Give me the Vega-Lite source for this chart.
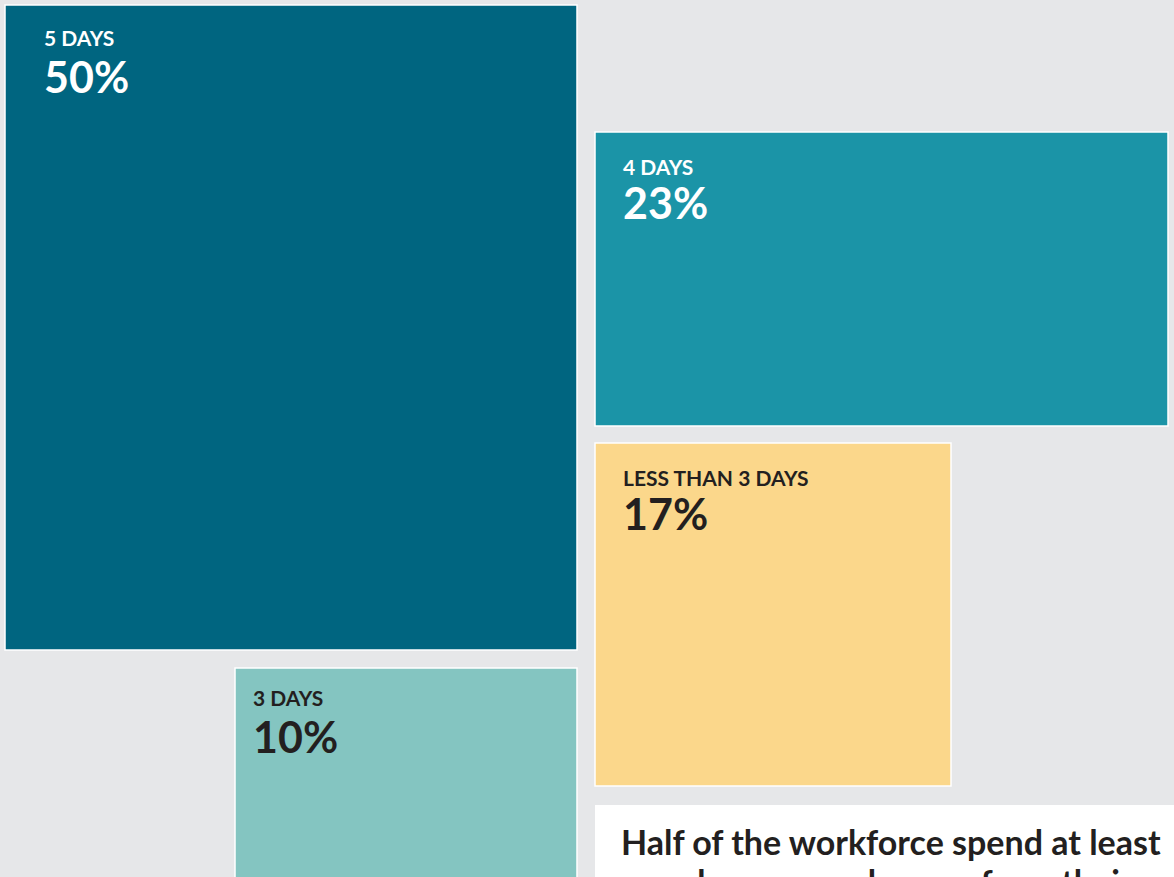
{
  "$schema": "https://vega.github.io/schema/vega-lite/v6.json",
  "width": 1174,
  "height": 877,
  "padding": 0,
  "autosize": {"type": "fit", "contains": "padding"},
  "background": "#e6e7e9",
  "config": {"view": {"stroke": null}, "font": "Lato"},
  "datasets": {
    "groups": [
      {"label": "5 DAYS", "share": 0.50, "x0": 5, "x1": 577, "y0": 5, "y1": 650},
      {"label": "4 DAYS", "share": 0.23, "x0": 595, "x1": 1168, "y0": 132, "y1": 426},
      {"label": "LESS THAN 3 DAYS", "share": 0.17, "x0": 595, "x1": 951, "y0": 443, "y1": 786},
      {"label": "3 DAYS", "share": 0.10, "x0": 235, "x1": 577, "y0": 668, "y1": 884}
    ],
    "note": [
      {"x0": 595, "x1": 1200, "y0": 805, "y1": 900, "text": ["Half of the workforce spend at least", "one day per week away from their"]}
    ]
  },
  "layer": [
    {
      "data": {"name": "groups"},
      "mark": {"type": "rect", "stroke": "#ffffff", "strokeWidth": 1.5, "clip": true},
      "encoding": {
        "x": {"field": "x0", "type": "quantitative", "scale": {"domain": [0, 1174], "nice": false, "zero": false}, "axis": null},
        "x2": {"field": "x1"},
        "y": {"field": "y0", "type": "quantitative", "scale": {"domain": [0, 877], "reverse": true, "nice": false, "zero": false}, "axis": null},
        "y2": {"field": "y1"},
        "color": {"field": "label", "type": "nominal", "scale": {"domain": ["5 DAYS", "4 DAYS", "LESS THAN 3 DAYS", "3 DAYS"], "range": ["#006580", "#1b94a7", "#fbd78b", "#84c5c1"]}, "legend": null}
      }
    },
    {
      "data": {"name": "note"},
      "mark": {"type": "rect", "fill": "#ffffff", "clip": true},
      "encoding": {
        "x": {"field": "x0", "type": "quantitative"},
        "x2": {"field": "x1"},
        "y": {"field": "y0", "type": "quantitative"},
        "y2": {"field": "y1"}
      }
    },
    {
      "data": {"name": "note"},
      "mark": {"type": "text", "align": "left", "baseline": "alphabetic", "dx": 26, "dy": 50, "fontSize": 34, "fontWeight": "bold", "lineHeight": 40, "fill": "#231f20", "clip": true},
      "encoding": {
        "x": {"field": "x0", "type": "quantitative"},
        "y": {"field": "y0", "type": "quantitative"},
        "text": {"field": "text"}
      }
    },
    {
      "data": {"name": "groups"},
      "transform": [{"filter": "datum.label == '5 DAYS'"}],
      "layer": [
        {"mark": {"type": "text", "align": "left", "baseline": "alphabetic", "dx": 39, "dy": 41, "fontSize": 21, "fontWeight": "bold"},
         "encoding": {"text": {"field": "label"}}},
        {"mark": {"type": "text", "align": "left", "baseline": "alphabetic", "dx": 39, "dy": 88, "fontSize": 43, "fontWeight": "bold"},
         "encoding": {"text": {"field": "share", "type": "quantitative", "format": ".0%"}}}
      ],
      "encoding": {
        "x": {"field": "x0", "type": "quantitative"},
        "y": {"field": "y0", "type": "quantitative"},
        "color": {"condition": {"test": "datum.share >= 0.2", "value": "#ffffff"}, "value": "#231f20"}
      }
    },
    {
      "data": {"name": "groups"},
      "transform": [{"filter": "datum.label == '4 DAYS' || datum.label == 'LESS THAN 3 DAYS'"}],
      "layer": [
        {"mark": {"type": "text", "align": "left", "baseline": "alphabetic", "dx": 28, "dy": 43, "fontSize": 21, "fontWeight": "bold"},
         "encoding": {"text": {"field": "label"}}},
        {"mark": {"type": "text", "align": "left", "baseline": "alphabetic", "dx": 28, "dy": 87, "fontSize": 43, "fontWeight": "bold"},
         "encoding": {"text": {"field": "share", "type": "quantitative", "format": ".0%"}}}
      ],
      "encoding": {
        "x": {"field": "x0", "type": "quantitative"},
        "y": {"field": "y0", "type": "quantitative"},
        "color": {"condition": {"test": "datum.share >= 0.2", "value": "#ffffff"}, "value": "#231f20"}
      }
    },
    {
      "data": {"name": "groups"},
      "transform": [{"filter": "datum.label == '3 DAYS'"}],
      "layer": [
        {"mark": {"type": "text", "align": "left", "baseline": "alphabetic", "dx": 18, "dy": 38, "fontSize": 21, "fontWeight": "bold"},
         "encoding": {"text": {"field": "label"}}},
        {"mark": {"type": "text", "align": "left", "baseline": "alphabetic", "dx": 18, "dy": 85, "fontSize": 43, "fontWeight": "bold"},
         "encoding": {"text": {"field": "share", "type": "quantitative", "format": ".0%"}}}
      ],
      "encoding": {
        "x": {"field": "x0", "type": "quantitative"},
        "y": {"field": "y0", "type": "quantitative"},
        "color": {"condition": {"test": "datum.share >= 0.2", "value": "#ffffff"}, "value": "#231f20"}
      }
    }
  ]
}
